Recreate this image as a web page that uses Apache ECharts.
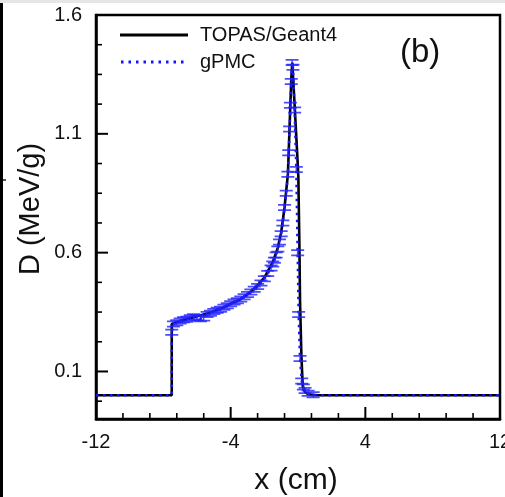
<!DOCTYPE html>
<html>
<head>
<meta charset="utf-8">
<script src="https://cdn.jsdelivr.net/npm/echarts@6/dist/echarts.min.js"></script>
<style>
html,body{margin:0;padding:0;background:#fff;}
#chart{width:505px;height:497px;}
</style>
</head>
<body>
<div id="chart"></div>
<script>
// ---- data ----
const topasX = [-12, -7.5, -7.5, -7.0, -6.5, -6.0, -5.5, -5.0, -4.5, -4.0, -3.5, -3.0, -2.5, -2.0, -1.5, -1.2, -1.0, -0.8, -0.6, -0.5, -0.4, -0.34, -0.2, -0.05, 0.02, 0.08, 0.12, 0.2, 0.28, 0.4, 0.6, 1.0, 12];
const topasY = [0, 0, 0.30, 0.312, 0.322, 0.332, 0.342, 0.354, 0.367, 0.385, 0.40, 0.425, 0.455, 0.495, 0.56, 0.62, 0.685, 0.79, 0.93, 1.13, 1.33, 1.40, 1.22, 1.02, 0.92, 0.65, 0.40, 0.17, 0.04, 0.015, 0.004, 0, 0];

const gpmcX = [-12, -7.5, -7.5, -7.4, -7.2, -7.0, -6.8, -6.6, -6.4, -6.2, -6.0, -5.8, -5.6, -5.4, -5.2, -5.0, -4.8, -4.6, -4.4, -4.2, -4.0, -3.8, -3.6, -3.4, -3.2, -3.0, -2.8, -2.6, -2.4, -2.2, -2.0, -1.8, -1.6, -1.5, -1.4, -1.3, -1.2, -1.1, -1.0, -0.9, -0.8, -0.7, -0.6, -0.55, -0.5, -0.45, -0.4, -0.35, -0.3, -0.2, -0.1, -0.02, 0.04, 0.12, 0.22, 0.32, 0.42, 0.6, 0.9, 1.5, 12];
const gpmcY = [0, 0, 0.265, 0.300, 0.305, 0.312, 0.318, 0.320, 0.326, 0.330, 0.326, 0.322, 0.325, 0.340, 0.345, 0.352, 0.358, 0.362, 0.370, 0.377, 0.385, 0.392, 0.398, 0.405, 0.414, 0.424, 0.434, 0.446, 0.458, 0.472, 0.490, 0.512, 0.535, 0.552, 0.568, 0.590, 0.615, 0.645, 0.680, 0.725, 0.790, 0.850, 0.930, 1.02, 1.12, 1.22, 1.32, 1.40, 1.38, 1.20, 0.95, 0.60, 0.34, 0.155, 0.06, 0.035, 0.02, 0.008, 0.002, 0, 0];

const xMajorTicks = [-12, -4, 4, 12];
const xMinorTicks = [-10.4, -8.8, -7.2, -5.6, -2.4, -0.8, 0.8, 2.4, 5.6, 7.2, 8.8, 10.4];
const yMajorTicks = [0.1, 0.6, 1.1, 1.6];
const yMinorTicks = [-0.025, 0.225, 0.35, 0.475, 0.725, 0.85, 0.975, 1.225, 1.35, 1.475];

const seriesNames = ['TOPAS/Geant4', 'gPMC'];
const axisTitles = {x: 'x (cm)', y: 'D (MeV/g)'};
const panelLabel = '(b)';

// ---- chart ----
const FONT = 'Liberation Sans, Arial, Helvetica, sans-serif';
const chart = echarts.init(document.getElementById('chart'), null, {renderer: 'canvas'});

const topasData = topasX.map((x, i) => [x, topasY[i]]);
const gpmcData = gpmcX.map((x, i) => [x, gpmcY[i]]);
const gpmcMarks = gpmcData.filter(d => d[1] > 0.001);

const XMIN = -12, XMAX = 12, YMIN = -0.1, YMAX = 1.6;
const BLUE = '#1414ff';
const MAJOR_LEN = 12, MINOR_LEN = 6;

function tickSeries(points, horizontal, len, w) {
  return {
    type: 'scatter', data: points, symbol: 'rect',
    symbolSize: horizontal ? [len, w] : [w, len],
    symbolOffset: horizontal ? [len / 2, 0] : [0, -len / 2],
    itemStyle: {color: '#000', opacity: 1}, clip: false, silent: true, z: 6,
    emphasis: {disabled: true}
  };
}

const option = {
  animation: false,
  backgroundColor: '#fff',
  grid: {left: 96, top: 15, right: 5, bottom: 78, show: true, borderColor: '#000', borderWidth: 2.5,
         backgroundColor: 'transparent', containLabel: false, outerBoundsMode: 'none'},
  xAxis: {
    type: 'value', min: XMIN, max: XMAX,
    axisLine: {show: true, onZero: false, lineStyle: {color: '#000', width: 2.5}},
    axisTick: {show: false},
    axisLabel: {customValues: xMajorTicks, margin: 13, fontFamily: FONT, fontSize: 20, color: '#111'},
    splitLine: {show: false}
  },
  yAxis: {
    type: 'value', min: YMIN, max: YMAX,
    axisLine: {show: true, onZero: false, lineStyle: {color: '#000', width: 2.5}},
    axisTick: {show: false},
    axisLabel: {customValues: yMajorTicks, margin: 14, fontFamily: FONT, fontSize: 20, color: '#111', formatter: v => v.toFixed(1)},
    splitLine: {show: false}
  },
  series: [{
    name: seriesNames[0], type: 'line', data: topasData,
    symbol: 'none', lineStyle: {color: '#000', width: 2.6}, itemStyle: {color: '#000'}, z: 3
  }, {
    name: seriesNames[1], type: 'line', data: gpmcData,
    symbol: 'none', lineStyle: {color: BLUE, width: 2.5, type: [2.5, 4.5]}, itemStyle: {color: BLUE}, z: 4
  }, {
    name: 'gPMC-err', type: 'scatter', data: gpmcMarks,
    symbol: 'path://M0 0H12V1.4H0Z M0 4.2H12V5.6H0Z M5.3 0H6.7V5.6H5.3Z',
    symbolSize: [13, 7],
    itemStyle: {color: '#2020ff', opacity: 0.8}, z: 5, silent: true
  },
    tickSeries(xMajorTicks.map(v => [v, YMIN]), false, MAJOR_LEN, 2),
    tickSeries(xMinorTicks.map(v => [v, YMIN]), false, MINOR_LEN, 1.6),
    tickSeries(yMajorTicks.map(v => [XMIN, v]), true, MAJOR_LEN, 2),
    tickSeries(yMinorTicks.map(v => [XMIN, v]), true, MINOR_LEN, 1.6)
  ],
  graphic: [
    {type: 'rect', shape: {x: 0, y: 0, width: 505, height: 3}, style: {fill: '#e6e6e6'}, silent: true},
    {type: 'rect', shape: {x: 0, y: 3, width: 3, height: 494}, style: {fill: '#000'}, silent: true},
    {type: 'rect', shape: {x: 3, y: 179, width: 3, height: 2}, style: {fill: '#555'}, silent: true},
    {type: 'text', x: 31, y: 209, rotation: Math.PI / 2,
     style: {text: axisTitles.y, font: '29px ' + FONT, fill: '#111', align: 'center', verticalAlign: 'middle'}},
    {type: 'text', x: 296, y: 481,
     style: {text: axisTitles.x, font: '30px ' + FONT, fill: '#111', align: 'center', verticalAlign: 'middle'}},
    {type: 'line', shape: {x1: 120, y1: 35, x2: 188, y2: 35}, style: {stroke: '#000', lineWidth: 3}, silent: true},
    {type: 'text', left: 200, top: 25, style: {text: seriesNames[0], font: '20px ' + FONT, fill: '#111'}},
    {type: 'line', shape: {x1: 121, y1: 62, x2: 188, y2: 62}, style: {stroke: BLUE, lineWidth: 3, lineDash: [2.5, 5]}, silent: true},
    {type: 'text', left: 200, top: 52, style: {text: seriesNames[1], font: '20px ' + FONT, fill: '#111'}},
    {type: 'text', left: 400, top: 36, style: {text: panelLabel, font: '33px ' + FONT, fill: '#111'}}
  ]
};
chart.setOption(option);
</script>
</body>
</html>
